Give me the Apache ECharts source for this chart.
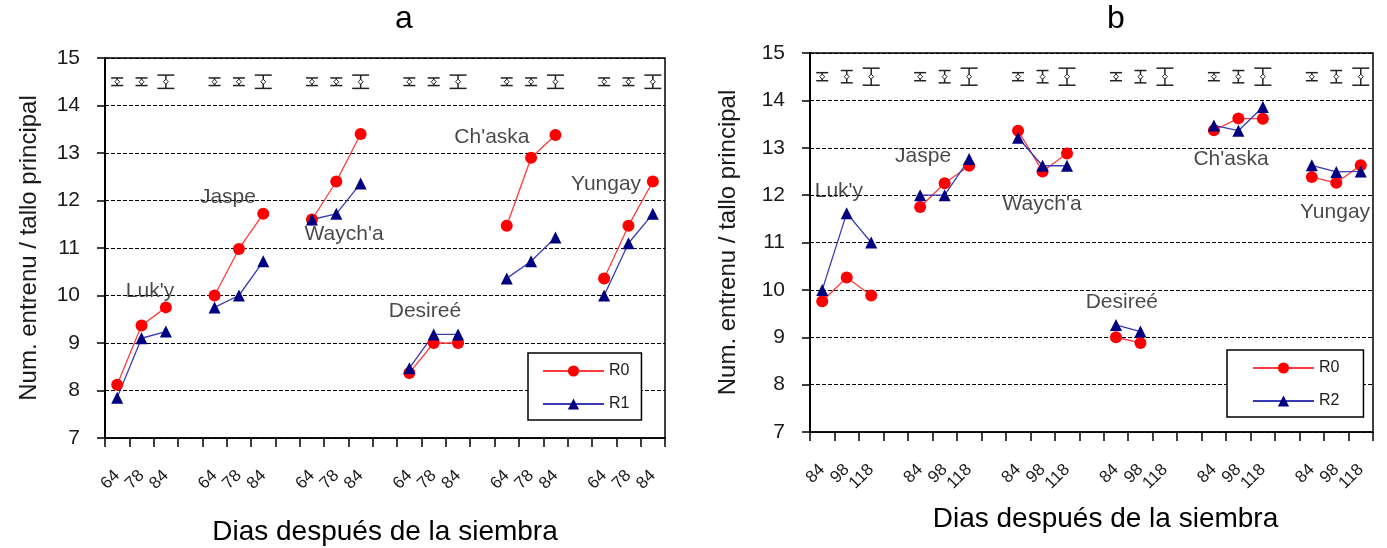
<!DOCTYPE html>
<html>
<head>
<meta charset="utf-8">
<script src="https://cdn.jsdelivr.net/npm/echarts@6/dist/echarts.min.js"></script>
<style>
html, body { margin: 0; padding: 0; background: #fff; }
#main { width: 1387px; height: 548px; }
</style>
</head>
<body>
<div id="main"></div>
<script>
// --- data ---
const cultivars = ["Luk'y", 'Jaspe', "Waych'a", 'Desireé', "Ch'aska", 'Yungay'];
const daysA = ['64', '78', '84'];
const daysB = ['84', '98', '118'];

// panel a: R0 / R1, one row per cultivar
const aR0 = [[8.12, 9.37, 9.75], [10.0, 10.98, 11.72], [11.6, 12.4, 13.4], [8.37, 9.0, 9.0], [11.47, 12.9, 13.38], [10.36, 11.47, 12.4]];
const aR1 = [[7.85, 9.1, 9.24], [9.75, 10.0, 10.72], [11.6, 11.72, 12.36], [8.47, 9.18, 9.18], [10.36, 10.72, 11.22], [10.0, 11.1, 11.72]];
// panel b: R0 / R2
const bR0 = [[9.76, 10.26, 9.88], [11.75, 12.25, 12.62], [13.36, 12.5, 12.88], [9.0, 8.88, null], [13.37, 13.62, 13.61], [12.38, 12.26, 12.63]];
const bR2 = [[10.0, 11.62, 11.0], [12.0, 12.0, 12.76], [13.21, 12.62, 12.62], [9.26, 9.12, null], [13.47, 13.36, 13.86], [12.63, 12.49, 12.5]];

// error bars drawn at the top (half range per sampling day)
const errLevel = 14.5;
const errA = [0.08, 0.08, 0.14];
const errB = [0.085, 0.13, 0.18];

// where the cultivar names sit (category position, y value)
const labelPosA = [[1.35, 10.1], [4.55, 12.07], [9.32, 11.3], [12.64, 9.67], [15.39, 13.34], [20.08, 12.35]];
const labelPosB = [[0.68, 12.09], [4.12, 12.83], [8.98, 11.81], [12.24, 9.74], [16.7, 12.76], [20.95, 11.64]];

// --- style ---
const FONT = 'Liberation Sans, Arial, sans-serif';
const TXT = '#1a1a1a';
const capW = [12, 12, 17];

// categories: 3 days per cultivar, one empty slot between groups
const buildCats = (days) => {
    const out = [];
    cultivars.forEach((c, g) => {
        days.forEach(d => out.push(d));
        if (g < cultivars.length - 1) out.push('');
    });
    return out;
};
const flatten = (rows) => {
    const out = [];
    rows.forEach((r, g) => {
        r.forEach(v => out.push(v == null ? '-' : v));
        if (g < rows.length - 1) out.push('-');
    });
    return out;
};
const errData = (err) => {
    const out = [];
    cultivars.forEach((c, g) => {
        err.forEach((e, j) => out.push([g * 4 + j, errLevel, e, j]));
    });
    return out;
};

const catsA = buildCats(daysA);
const catsB = buildCats(daysB);

const errorBarItem = (params, api) => {
    const x = api.value(0), y = api.value(1), h = api.value(2);
    const w = capW[api.value(3)] / 2;
    const top = api.coord([x, y + h]);
    const bot = api.coord([x, y - h]);
    const mid = api.coord([x, y]);
    const d = 2.5;
    const st = { stroke: '#222', lineWidth: 1.5, fill: null };
    return {
        type: 'group',
        children: [
            { type: 'line', shape: { x1: top[0], y1: top[1], x2: bot[0], y2: bot[1] }, style: st },
            { type: 'line', shape: { x1: top[0] - w, y1: top[1], x2: top[0] + w, y2: top[1] }, style: st },
            { type: 'line', shape: { x1: bot[0] - w, y1: bot[1], x2: bot[0] + w, y2: bot[1] }, style: st },
            { type: 'polygon', shape: { points: [[mid[0], mid[1] - d], [mid[0] + d, mid[1]], [mid[0], mid[1] + d], [mid[0] - d, mid[1]]] },
              style: { stroke: '#222', fill: '#fff', lineWidth: 1 } },
        ],
    };
};

const makeXAxis = (grid, cats, gap, namePad) => ({
    type: 'category', gridIndex: grid, data: cats,
    axisLine: { show: true, onZero: false, lineStyle: { color: '#000', width: 1.5 } },
    axisTick: { show: true, interval: 0, length: 9, lineStyle: { color: '#000', width: 1.5 } },
    axisLabel: { show: true, interval: 0, rotate: 45, fontSize: 17, margin: 35, color: TXT, fontFamily: FONT },
    splitLine: { show: false },
    name: 'Dias después de la siembra', nameLocation: 'middle', nameGap: gap,
    nameTextStyle: { fontSize: 28, color: '#000', fontFamily: FONT, padding: namePad },
});
const makeYAxis = (grid, gap) => ({
    type: 'value', gridIndex: grid, min: 7, max: 15, interval: 1,
    axisLine: { show: true, onZero: false, lineStyle: { color: '#000', width: 2 } },
    axisTick: { show: true, length: 8, lineStyle: { color: '#000', width: 1.5 } },
    axisLabel: { fontSize: 21, margin: 25, color: TXT, fontFamily: FONT },
    splitLine: { show: true, lineStyle: { color: '#000', type: [4, 2], width: 1 } },
    name: 'Num. entrenu / tallo principal', nameLocation: 'middle', nameRotate: 90, nameGap: gap,
    nameTextStyle: { fontSize: 24, color: TXT, fontFamily: FONT },
});

const lineR0 = (xi, data) => ({
    name: 'R0', type: 'line', xAxisIndex: xi, yAxisIndex: xi, data,
    symbol: 'circle', symbolSize: 12,
    lineStyle: { color: '#ff3b3b', width: 1.3 }, itemStyle: { color: '#ff0000' },
});
const lineBlue = (name, xi, data) => ({
    name, type: 'line', xAxisIndex: xi, yAxisIndex: xi, data,
    symbol: 'triangle', symbolSize: 12,
    lineStyle: { color: '#3a3ab4', width: 1.3 }, itemStyle: { color: '#000080' },
});
const labelSeries = (xi, yi, pos) => ({
    type: 'scatter', xAxisIndex: xi, yAxisIndex: yi, silent: true, symbolSize: 1,
    itemStyle: { color: 'rgba(0,0,0,0)' },
    data: cultivars.map((c, i) => ({ name: c, value: pos[i] })),
    label: { show: true, position: 'inside', formatter: '{b}', fontSize: 21, color: TXT, fontFamily: FONT },
});
const legendBox = (left, top, names, pad) => ({
    data: names, left, top, orient: 'vertical',
    itemWidth: 61, itemHeight: 14, itemGap: 17, padding: pad,
    borderColor: '#000', borderWidth: 1.5, backgroundColor: '#fff',
    textStyle: { fontSize: 16, color: TXT, fontFamily: FONT },
});

const chart = echarts.init(document.getElementById('main'));
chart.setOption({
    animation: false,
    backgroundColor: '#fff',
    title: [
        { text: 'a', left: 390, top: -2, textStyle: { fontSize: 32, fontWeight: 'normal', color: '#000', fontFamily: FONT } },
        { text: 'b', left: 1102, top: -2, textStyle: { fontSize: 32, fontWeight: 'normal', color: '#000', fontFamily: FONT } },
    ],
    grid: [
        { left: 105, top: 58, width: 560, height: 380, show: true, borderColor: '#000', borderWidth: 1.5, outerBoundsMode: 'none' },
        { left: 810, top: 53, width: 563, height: 379, show: true, borderColor: '#000', borderWidth: 1.5, outerBoundsMode: 'none' },
    ],
    legend: [
        legendBox(528, 353, ['R0', 'R1'], [10, 12, 8, 14]),
        legendBox(1227, 350, ['R0', 'R2'], [10, 24, 8, 25]),
    ],
    xAxis: [
        makeXAxis(0, catsA, 80, [0, 0, 0, 0]),
        makeXAxis(1, catsB, 73, [0, 0, 0, 28]),
        { type: 'value', gridIndex: 0, min: -0.5, max: 22.5, show: false },
        { type: 'value', gridIndex: 1, min: -0.5, max: 22.5, show: false },
    ],
    yAxis: [makeYAxis(0, 64), makeYAxis(1, 70)],
    series: [
        { type: 'custom', xAxisIndex: 0, yAxisIndex: 0, renderItem: errorBarItem, data: errData(errA), silent: true },
        { type: 'custom', xAxisIndex: 1, yAxisIndex: 1, renderItem: errorBarItem, data: errData(errB), silent: true },
        lineR0(0, flatten(aR0)),
        lineBlue('R1', 0, flatten(aR1)),
        lineR0(1, flatten(bR0)),
        lineBlue('R2', 1, flatten(bR2)),
        labelSeries(2, 0, labelPosA),
        labelSeries(3, 1, labelPosB),
    ],
});
</script>
</body>
</html>
